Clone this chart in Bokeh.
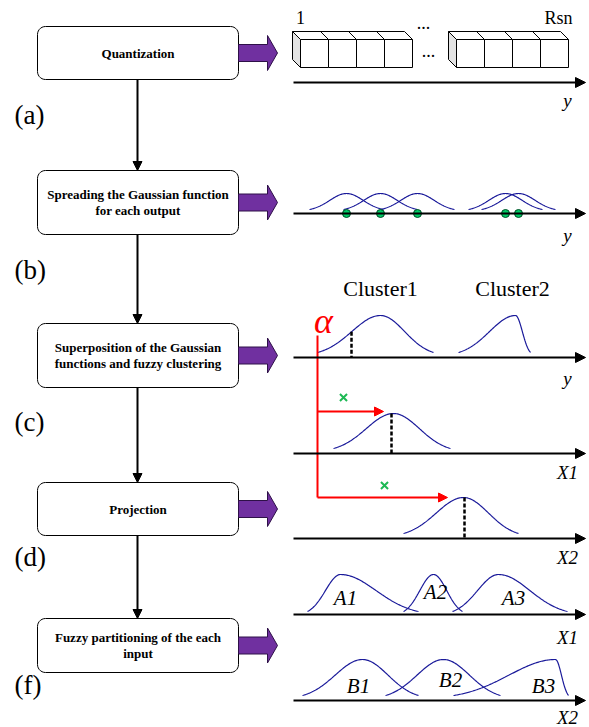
import numpy as np
from bokeh.plotting import figure
from bokeh.models import Range1d, Arrow, NormalHead, ColumnDataSource
from bokeh.core.properties import value
from bokeh.embed import file_html
from bokeh.resources import INLINE

# ---------------- data ----------------
step_lines = [["Quantization"],
              ["Spreading the Gaussian function", "for each output"],
              ["Superposition of the Gaussian", "functions and fuzzy clustering"],
              ["Projection"],
              ["Fuzzy partitioning of the each", "input"]]
box_top = [26, 170, 323, 482, 618]
box_bottom = [79, 234, 387, 535, 672]
box_left, box_right = 37, 238
panel_labels = ["(a)", "(b)", "(c)", "(d)", "(f)"]
panel_label_y = [114, 269, 421, 556, 684]

axis_y = [82, 213, 357, 453, 538, 614, 700]
axis_names = ["y", "y", "y", "X1", "X2", "X1", "X2"]
axis_name_y = [100, 235, 378, 472, 557, 637, 717]
axis_x0, axis_x1 = 293, 585

# (a) quantization cells
cell_groups_x = [300, 456]
cells_per_group = 4
cell_w = 28
cell_top, cell_bottom, cell_depth = 39, 67, 8
quant_labels = ["1", "...", "...", "Rsn"]
quant_label_x = [300, 423, 428, 558]
quant_label_y = [17, 22, 50, 17]

# (b) outputs and their Gaussians
output_y = [346, 380, 417, 505, 518]
gauss_halfwidth = 37
gauss_base, gauss_peak = 209, 193

# curves: (start, peak, end, base, top)
cluster_curves = [(317, 380, 433, 352, 315), (458, 515, 530, 352, 315)]
cluster_names = ["Cluster1", "Cluster2"]
cluster_name_x = [380, 512]
proj_curves = [(333, 393, 450, 448, 413), (403, 463, 518, 533, 497)]
proj_centers = [391, 464]
A_curves = [(307, 340, 418, 611, 574), (403, 433, 462, 611, 574), (452, 498, 567, 611, 574)]
A_names = ["A1", "A2", "A3"]
A_name_xy = [(345, 597), (435, 591), (513, 597)]
B_curves = [(302, 362, 418, 695, 659), (385, 443, 500, 695, 659), (453, 555, 568, 695, 659)]
B_names = ["B1", "B2", "B3"]
B_name_xy = [(358, 685), (450, 679), (543, 685)]

alpha_x = 317
alpha_cut_x = 351
red_targets = [(411, 383), (497, 447)]
cross_xy = [(343, 397), (384, 485)]

CURVE = "#1a1a9a"
PURPLE = "#7030a0"
FONT = "Liberation Serif"


def bump(c, n=120):
    x0, xp, x1, yb, yt = c
    xs = np.linspace(x0, x1, n)
    sl = (xp - x0) / 2.2
    sr = (x1 - xp) / 2.2
    s = np.where(xs < xp, sl, sr)
    g = np.exp(-0.5 * ((xs - xp) / s) ** 2)
    ge = np.exp(-0.5 * 2.2 ** 2)
    g = (g - ge) / (1 - ge)
    return xs, yb - (yb - yt) * g


def bump_at(c, x):
    xs, ys = bump(c, 2000)
    return float(np.interp(x, xs, ys))


def rounded_rect(l, r, t, b, rad=8, n=8):
    xs, ys = [], []
    corners = [(r - rad, t + rad, -90, 0), (r - rad, b - rad, 0, 90),
               (l + rad, b - rad, 90, 180), (l + rad, t + rad, 180, 270)]
    for cx, cy, a0, a1 in corners:
        for a in np.linspace(np.radians(a0), np.radians(a1), n):
            xs.append(cx + rad * np.cos(a))
            ys.append(cy + rad * np.sin(a))
    return xs, ys


p = figure(width=589, height=727, x_range=Range1d(0, 589), y_range=Range1d(727, 0),
           output_backend="svg", toolbar_location=None, min_border=0)
p.axis.visible = False
p.grid.visible = False
p.outline_line_color = None
p.min_border_left = p.min_border_right = p.min_border_top = p.min_border_bottom = 0

# ---------------- left flow ----------------
for i, lines in enumerate(step_lines):
    t, b = box_top[i], box_bottom[i]
    xs, ys = rounded_rect(box_left, box_right, t, b)
    p.patch(xs, ys, fill_color="white", line_color="black", line_width=1)
    cy = (t + b) / 2
    nl = len(lines)
    for j, ln in enumerate(lines):
        p.text([(box_left + box_right) / 2], [cy + (j - (nl - 1) / 2) * 16], text=[ln],
               text_font=value(FONT), text_font_style="bold", text_font_size="13px",
               text_align="center", text_baseline="middle", text_color="black")
    # purple arrow
    ax = [box_right, 267, 267, 277, 267, 267, box_right]
    ay = [cy - 8.5, cy - 8.5, cy - 17.5, cy, cy + 17.5, cy + 8.5, cy + 8.5]
    p.patch(ax, ay, fill_color=PURPLE, line_color="#2e1048", line_width=1)
    p.text([14], [panel_label_y[i]], text=[panel_labels[i]], text_font=value(FONT),
           text_font_size="27px", text_align="left", text_baseline="middle", text_color="black")

conn = ColumnDataSource(dict(x0=[137] * 4, y0=box_bottom[:-1], x1=[137] * 4, y1=box_top[1:]))
p.add_layout(Arrow(end=NormalHead(size=9, fill_color="black", line_color="black"),
                   x_start="x0", y_start="y0", x_end="x1", y_end="y1", source=conn,
                   line_width=2, line_color="black"))

# ---------------- axes ----------------
ax_src = ColumnDataSource(dict(x0=[axis_x0] * len(axis_y), y0=axis_y,
                               x1=[axis_x1] * len(axis_y), y1=axis_y))
p.add_layout(Arrow(end=NormalHead(size=10, fill_color="black", line_color="black"),
                   x_start="x0", y_start="y0", x_end="x1", y_end="y1", source=ax_src,
                   line_width=2.2, line_color="black"))
p.text([567] * len(axis_y), axis_name_y, text=axis_names, text_font=value(FONT),
       text_font_style="italic", text_font_size="19px", text_align="center",
       text_baseline="middle", text_color="black")

# ---------------- (a) cells ----------------
for fx in cell_groups_x:
    d = cell_depth
    W = cells_per_group * cell_w
    p.patch([fx - d, fx, fx, fx - d], [cell_top - d, cell_top, cell_bottom, cell_bottom - d],
            fill_color="#e3e3e3", line_color="black", line_width=1)
    p.patch([fx - d, fx + W - d, fx + W, fx], [cell_top - d, cell_top - d, cell_top, cell_top],
            fill_color="white", line_color="black", line_width=1)
    lefts = [fx + k * cell_w for k in range(cells_per_group)]
    p.quad(left=lefts, right=[l + cell_w for l in lefts], top=[cell_top] * cells_per_group,
           bottom=[cell_bottom] * cells_per_group, fill_color="white", line_color="black", line_width=1)
    p.segment(x0=[l - d for l in lefts[1:]], y0=[cell_top - d] * 3, x1=lefts[1:], y1=[cell_top] * 3,
              line_color="black", line_width=1)
p.text(quant_label_x, quant_label_y, text=quant_labels, text_font=value(FONT),
       text_font_size="18px", text_align="center", text_baseline="middle", text_color="black")

# ---------------- (b) ----------------
for c in output_y:
    xs, ys = bump((c - gauss_halfwidth, c, c + gauss_halfwidth, gauss_base, gauss_peak))
    p.line(xs, ys, line_color=CURVE, line_width=1.2)
p.scatter(output_y, [axis_y[1]] * len(output_y), size=8, fill_color="#00cc66",
          line_color="#004d26", line_width=1)

# ---------------- (c) ----------------
for c in cluster_curves + proj_curves + A_curves + B_curves:
    xs, ys = bump(c)
    p.line(xs, ys, line_color=CURVE, line_width=1.2)
p.text(cluster_name_x, [288, 288], text=cluster_names, text_font=value(FONT),
       text_font_size="22px", text_align="center", text_baseline="middle", text_color="black")

cut_y = bump_at(cluster_curves[0], alpha_cut_x)
p.segment(x0=[alpha_cut_x, proj_centers[0], proj_centers[1]],
          y0=[cut_y, proj_curves[0][4], proj_curves[1][4]],
          x1=[alpha_cut_x, proj_centers[0], proj_centers[1]],
          y1=[axis_y[2], axis_y[3], axis_y[4]],
          line_color="black", line_width=2.5, line_dash="4 2")

# red alpha path
p.line([alpha_x, alpha_x], [335, red_targets[-1][0]], line_color="red", line_width=2)
red_src = ColumnDataSource(dict(x0=[alpha_x] * 2, y0=[t[0] for t in red_targets],
                                x1=[t[1] for t in red_targets], y1=[t[0] for t in red_targets]))
p.add_layout(Arrow(end=NormalHead(size=9, fill_color="red", line_color="red"),
                   x_start="x0", y_start="y0", x_end="x1", y_end="y1", source=red_src,
                   line_width=2, line_color="red"))
p.text([323], [320], text=["α"], text_font=value(FONT), text_font_style="italic",
       text_font_size="36px", text_align="center", text_baseline="middle", text_color="red")
p.scatter([c[0] for c in cross_xy], [c[1] for c in cross_xy], marker="x", size=10,
          line_color="#1db954", line_width=2)

# ---------------- (f) labels ----------------
p.text([q[0] for q in A_name_xy + B_name_xy], [q[1] for q in A_name_xy + B_name_xy],
       text=A_names + B_names, text_font=value(FONT), text_font_style="italic",
       text_font_size="21px", text_align="center", text_baseline="middle", text_color="black")

open("out.html", "w").write(file_html(p, INLINE))
